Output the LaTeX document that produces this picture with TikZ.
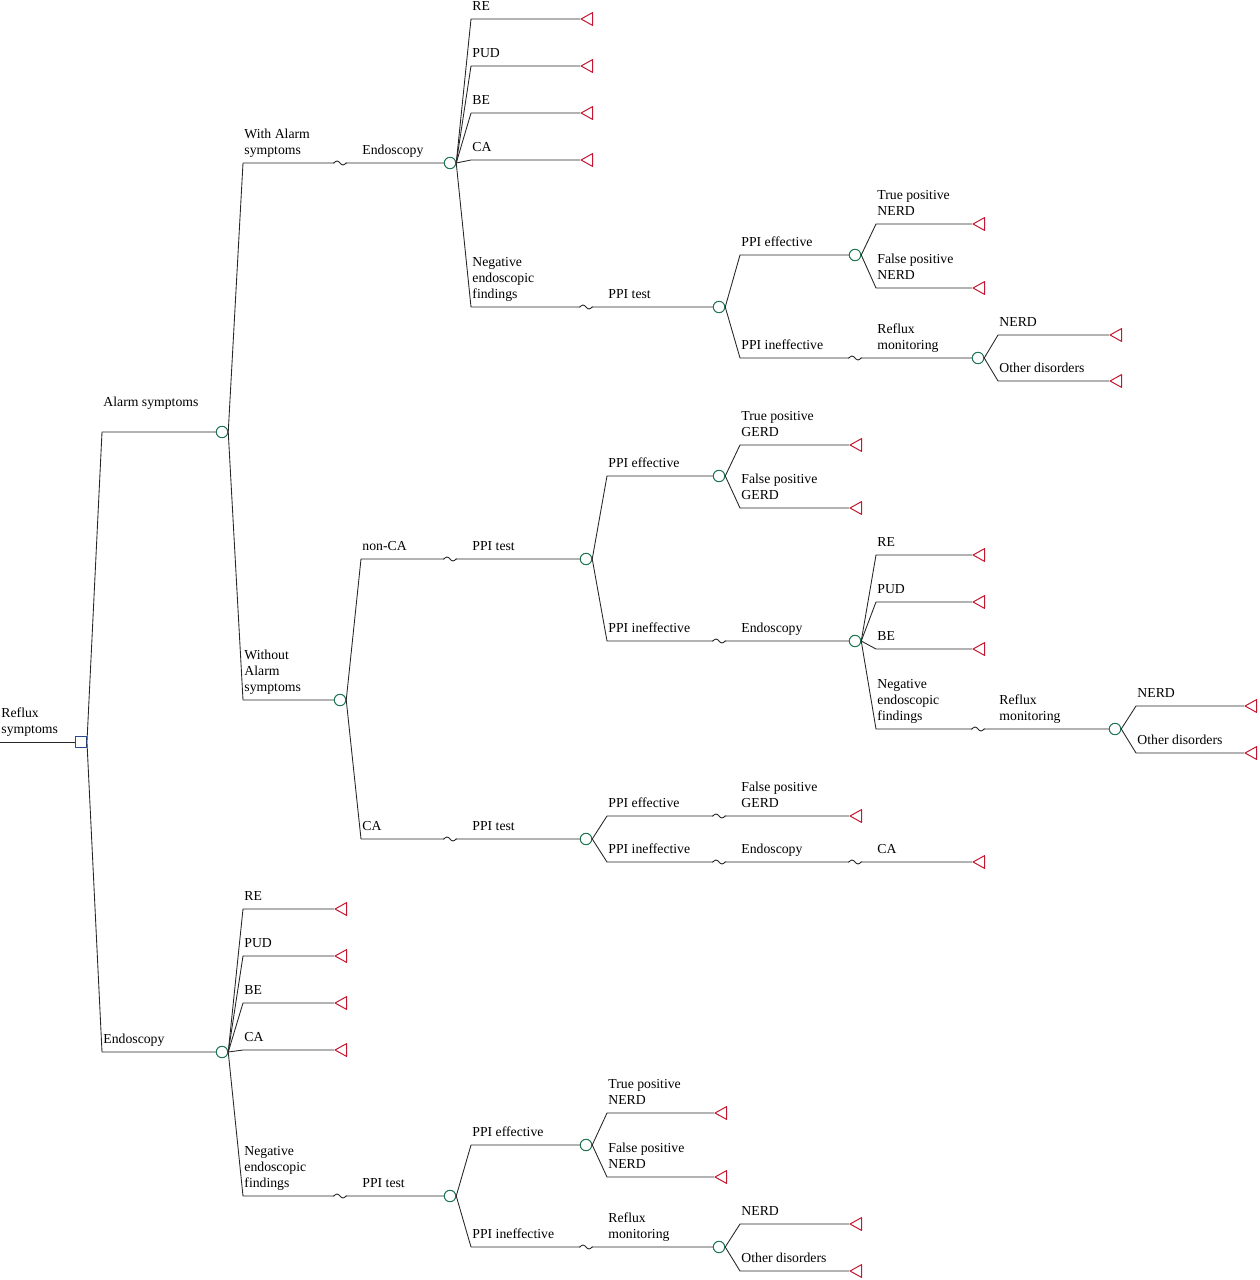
\documentclass[tikz,border=0pt]{standalone}
\usepackage{fontspec}
\setmainfont{Liberation Serif}
\usepackage{xcolor}
\usetikzlibrary{calc,shapes.geometric}
\definecolor{chancegreen}{RGB}{30,118,82}
\definecolor{decblue}{RGB}{38,72,150}
\definecolor{termred}{RGB}{196,24,48}

\begin{document}
\begin{tikzpicture}[x=0.75pt,y=-0.75pt,line join=round,line width=0.65pt,
  chance/.style={circle,draw=chancegreen,fill=white,line width=0.75pt,inner sep=0pt,minimum size=8.6pt},
  decision/.style={rectangle,draw=decblue,fill=white,line width=0.75pt,inner sep=0pt,minimum size=8.2pt},
  term/.style={isosceles triangle,isosceles triangle apex angle=58,shape border rotate=180,
    draw=termred,line width=0.75pt,inner sep=0pt,minimum height=8.6pt,anchor=apex},
  lab/.style={anchor=south west,inner sep=0pt,xshift=0.75pt,yshift=2.4pt,align=left,
    font=\fontsize{10.3}{12}\selectfont,execute at end node=\strut},
  branch/.style={draw=black!85}]
  \useasboundingbox (0,0) rectangle (1259,1280);

  % root
  \coordinate (in) at (0,742);
  \node[decision] (root) at (81,742) {};
  \draw[branch] (in) -- (root);
  \node[lab] at (in) {Reflux\\symptoms};

  % first split
  \coordinate (k-alarm) at (102,432);
  \coordinate (k-endo)  at (102,1052);
  \node[chance] (alarm) at (222,432) {};
  \node[chance] (endo)  at (222,1052) {};
  \draw[branch] (root.east) -- (k-alarm) -- (alarm);
  \draw[branch] (root.east) -- (k-endo) -- (endo);
  \node[lab] at (102,415) {Alarm symptoms};
  \node[lab] at (k-endo) {Endoscopy};

  % alarm symptoms: with / without
  \coordinate (k-wA)  at (243,163);
  \coordinate (k-woA) at (243,700);
  \node[chance] (wA)  at (450,163) {};
  \node[chance] (woA) at (340,700) {};
  \draw[branch] (alarm.east) -- (k-wA) -- (wA);
  \draw[branch] (alarm.east) -- (k-woA) -- (woA);
  \node[lab] at (k-wA) {With Alarm\\symptoms};
  \node[lab] at (361,163) {Endoscopy};
  \node[lab] at (k-woA) {Without\\Alarm\\symptoms};

  % with alarm -> endoscopy findings
  \foreach \y/\txt in {19/RE,66/PUD,113/BE,160/CA}{
    \coordinate (k-wA\y) at (471,\y);
    \node[term] (t-wA\y) at (580,\y) {};
    \draw[branch] (wA.east) -- (k-wA\y) -- (t-wA\y);
    \node[lab] at (k-wA\y) {\txt};
  }
  \coordinate (k-negA) at (471,307);
  \node[chance] (ppiA) at (719,307) {};
  \draw[branch] (wA.east) -- (k-negA) -- (ppiA);
  \node[lab] at (k-negA) {Negative\\endoscopic\\findings};
  \node[lab] at (607,307) {PPI test};

  % PPI test after negative endoscopy
  \coordinate (k-effA)  at (740,255);
  \coordinate (k-ineA)  at (740,358);
  \node[chance] (effA)  at (855,255) {};
  \node[chance] (reflA) at (978,358) {};
  \draw[branch] (ppiA.east) -- (k-effA) -- (effA);
  \draw[branch] (ppiA.east) -- (k-ineA) -- (reflA);
  \node[lab] at (k-effA) {PPI effective};
  \node[lab] at (k-ineA) {PPI ineffective};
  \node[lab] at (876,358) {Reflux\\monitoring};
  \foreach \y/\txt in {224/{True positive\\NERD},288/{False positive\\NERD}}{
    \coordinate (k-effA\y) at (876,\y);
    \node[term] (t-effA\y) at (972,\y) {};
    \draw[branch] (effA.east) -- (k-effA\y) -- (t-effA\y);
    \node[lab] at (k-effA\y) {\txt};
  }
  \foreach \y/\txt in {335/NERD,381/Other disorders}{
    \coordinate (k-reflA\y) at (998,\y);
    \node[term] (t-reflA\y) at (1109,\y) {};
    \draw[branch] (reflA.east) -- (k-reflA\y) -- (t-reflA\y);
    \node[lab] at (k-reflA\y) {\txt};
  }

  % without alarm symptoms: non-CA / CA
  \coordinate (k-nonca) at (361,559);
  \coordinate (k-ca)    at (361,839);
  \node[chance] (nonca) at (586,559) {};
  \node[chance] (caB)   at (586,839) {};
  \draw[branch] (woA.east) -- (k-nonca) -- (nonca);
  \draw[branch] (woA.east) -- (k-ca) -- (caB);
  \node[lab] at (k-nonca) {non-CA};
  \node[lab] at (471,559) {PPI test};
  \node[lab] at (k-ca) {CA};
  \node[lab] at (471,839) {PPI test};

  % non-CA, PPI test
  \coordinate (k-effB) at (607,476);
  \coordinate (k-ineB) at (607,641);
  \node[chance] (effB)  at (719,476) {};
  \node[chance] (endoB) at (855,641) {};
  \draw[branch] (nonca.east) -- (k-effB) -- (effB);
  \draw[branch] (nonca.east) -- (k-ineB) -- (endoB);
  \node[lab] at (k-effB) {PPI effective};
  \node[lab] at (k-ineB) {PPI ineffective};
  \node[lab] at (740,641) {Endoscopy};
  \foreach \y/\txt in {445/{True positive\\GERD},508/{False positive\\GERD}}{
    \coordinate (k-effB\y) at (740,\y);
    \node[term] (t-effB\y) at (849,\y) {};
    \draw[branch] (effB.east) -- (k-effB\y) -- (t-effB\y);
    \node[lab] at (k-effB\y) {\txt};
  }
  \foreach \y/\txt in {555/RE,602/PUD,649/BE}{
    \coordinate (k-endoB\y) at (876,\y);
    \node[term] (t-endoB\y) at (972,\y) {};
    \draw[branch] (endoB.east) -- (k-endoB\y) -- (t-endoB\y);
    \node[lab] at (k-endoB\y) {\txt};
  }
  \coordinate (k-negB) at (876,729);
  \node[chance] (reflB) at (1115,729) {};
  \draw[branch] (endoB.east) -- (k-negB) -- (reflB);
  \node[lab] at (k-negB) {Negative\\endoscopic\\findings};
  \node[lab] at (998,729) {Reflux\\monitoring};
  \foreach \y/\txt in {706/NERD,753/Other disorders}{
    \coordinate (k-reflB\y) at (1136,\y);
    \node[term] (t-reflB\y) at (1244,\y) {};
    \draw[branch] (reflB.east) -- (k-reflB\y) -- (t-reflB\y);
    \node[lab] at (k-reflB\y) {\txt};
  }

  % CA, PPI test
  \coordinate (k-effCA) at (607,816);
  \coordinate (k-ineCA) at (607,862);
  \node[term] (t-effCA) at (849,816) {};
  \node[term] (t-ineCA) at (972,862) {};
  \draw[branch] (caB.east) -- (k-effCA) -- (t-effCA);
  \draw[branch] (caB.east) -- (k-ineCA) -- (t-ineCA);
  \node[lab] at (k-effCA) {PPI effective};
  \node[lab] at (740,816) {False positive\\GERD};
  \node[lab] at (k-ineCA) {PPI ineffective};
  \node[lab] at (740,862) {Endoscopy};
  \node[lab] at (876,862) {CA};

  % endoscopy first
  \foreach \y/\txt in {909/RE,956/PUD,1003/BE,1050/CA}{
    \coordinate (k-endo\y) at (243,\y);
    \node[term] (t-endo\y) at (334,\y) {};
    \draw[branch] (endo.east) -- (k-endo\y) -- (t-endo\y);
    \node[lab] at (k-endo\y) {\txt};
  }
  \coordinate (k-negC) at (243,1196);
  \node[chance] (ppiC) at (450,1196) {};
  \draw[branch] (endo.east) -- (k-negC) -- (ppiC);
  \node[lab] at (k-negC) {Negative\\endoscopic\\findings};
  \node[lab] at (361,1196) {PPI test};

  \coordinate (k-effC) at (471,1145);
  \coordinate (k-ineC) at (471,1247);
  \node[chance] (effC)  at (586,1145) {};
  \node[chance] (reflC) at (719,1247) {};
  \draw[branch] (ppiC.east) -- (k-effC) -- (effC);
  \draw[branch] (ppiC.east) -- (k-ineC) -- (reflC);
  \node[lab] at (k-effC) {PPI effective};
  \node[lab] at (k-ineC) {PPI ineffective};
  \node[lab] at (607,1247) {Reflux\\monitoring};
  \foreach \y/\txt in {1113/{True positive\\NERD},1177/{False positive\\NERD}}{
    \coordinate (k-effC\y) at (607,\y);
    \node[term] (t-effC\y) at (714,\y) {};
    \draw[branch] (effC.east) -- (k-effC\y) -- (t-effC\y);
    \node[lab] at (k-effC\y) {\txt};
  }
  \foreach \y/\txt in {1224/NERD,1271/Other disorders}{
    \coordinate (k-reflC\y) at (740,\y);
    \node[term] (t-reflC\y) at (849,\y) {};
    \draw[branch] (reflC.east) -- (k-reflC\y) -- (t-reflC\y);
    \node[lab] at (k-reflC\y) {\txt};
  }

  % squiggles where a branch skips a column
  \foreach \x/\y in {340/163,586/307,855/358,450/559,450/839,719/641,978/729,
        719/816,719/862,855/862,340/1196,586/1247}{
    \fill[white] (\x-6,\y-3.5) rectangle (\x+6,\y+3.5);
    \draw[branch] (\x-7,\y) -- (\x-6,\y) sin ++(3,-2) cos ++(3,2) sin ++(3,2) cos ++(3,-2) -- (\x+7,\y);
  }
\end{tikzpicture}
\end{document}
